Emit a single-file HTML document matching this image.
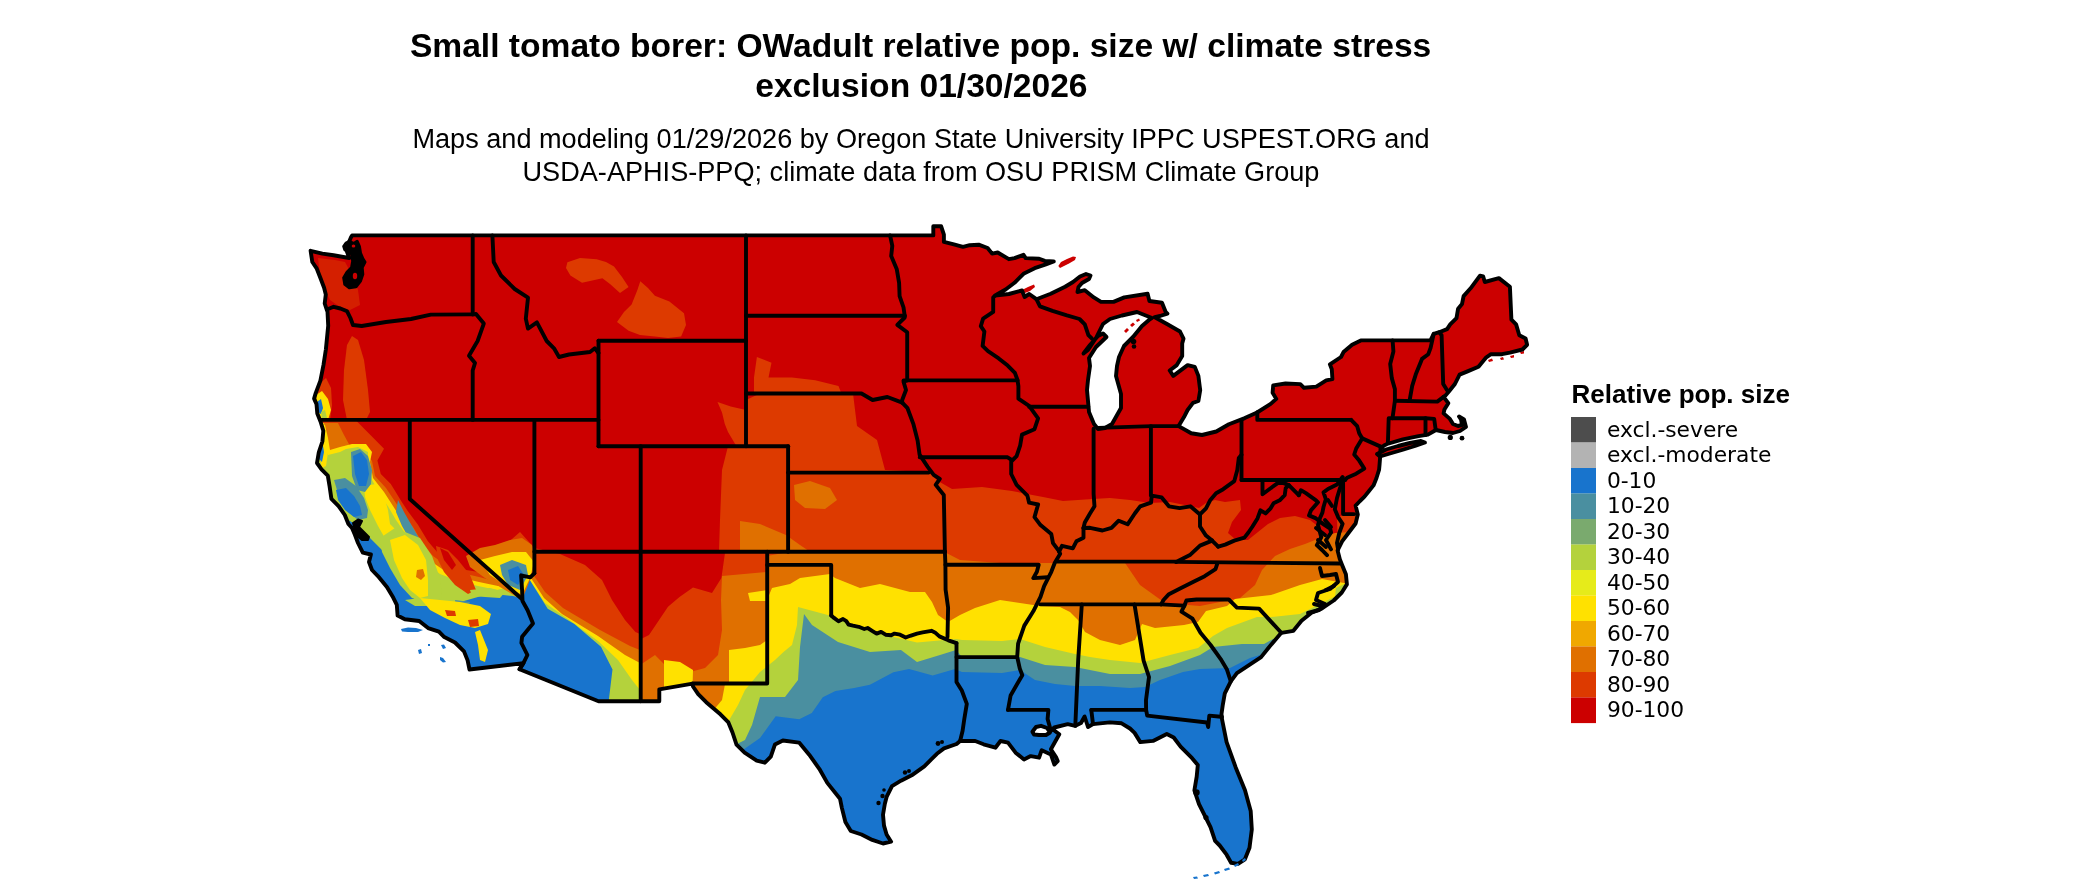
<!DOCTYPE html>
<html><head><meta charset="utf-8"><title>Small tomato borer: OWadult relative pop. size</title>
<style>html,body{margin:0;padding:0;background:#fff;}body{width:2100px;height:892px;overflow:hidden;}svg{display:block;}</style>
</head><body>
<svg width="2100" height="892" viewBox="0 0 2100 892" style="will-change:transform">
<defs><clipPath id="land"><path d="M310.6,250.8 L322.4,253.6 L333.6,255.3 L349.3,258.0 L346.0,249.0 L349.0,242.0 L351.0,237.3 L352.1,235.4 L933.3,235.4 L933.3,226.2 L941.1,226.2 L943.9,234.6 L943.9,241.9 L952.9,244.1 L963.0,246.9 L969.7,245.2 L978.7,244.7 L987.6,248.0 L992.1,253.6 L997.7,252.5 L1008.9,259.2 L1014.5,258.1 L1023.5,254.8 L1025.7,258.1 L1039.2,258.7 L1044.8,260.9 L1053.8,261.5 L1045.9,264.3 L1034.7,268.2 L1023.5,273.8 L1014.5,282.8 L1005.6,289.5 L997.7,294.0 L995.1,295.6 L1008.9,294.0 L1022.0,290.5 L1024.6,297.0 L1029.2,294.0 L1036.4,299.2 L1050.7,293.8 L1065.1,286.7 L1073.0,282.0 L1080.0,276.5 L1086.0,274.0 L1090.5,275.5 L1089.0,279.0 L1082.0,283.0 L1078.5,287.0 L1077.5,292.0 L1084.8,290.2 L1093.8,297.4 L1101.0,301.9 L1113.5,301.9 L1124.3,297.4 L1147.6,293.8 L1149.4,301.0 L1162.0,302.8 L1165.6,311.8 L1167.4,313.6 L1160.0,316.0 L1154.8,317.2 L1167.4,324.3 L1180.0,331.5 L1183.5,338.7 L1182.2,343.6 L1182.2,356.1 L1176.8,365.1 L1169.7,370.5 L1173.3,375.9 L1187.6,365.1 L1194.8,366.9 L1198.4,375.9 L1200.2,390.2 L1198.4,401.0 L1193.0,402.8 L1187.6,410.0 L1184.0,417.1 L1178.6,426.1 L1191.2,433.3 L1202.0,435.0 L1216.3,431.5 L1228.9,424.3 L1244.8,418.1 L1257.1,412.5 L1270.7,403.9 L1276.3,398.9 L1272.6,392.8 L1273.2,385.4 L1285.5,383.5 L1300.3,384.1 L1304.0,387.8 L1316.3,386.6 L1326.2,380.4 L1332.4,379.2 L1331.8,369.3 L1329.9,364.4 L1341.0,357.0 L1343.5,352.1 L1352.1,344.7 L1360.8,340.4 L1430.6,340.2 L1433.7,333.8 L1439.2,332.2 L1447.1,329.1 L1450.2,324.4 L1456.5,318.1 L1458.1,308.7 L1462.0,304.0 L1463.6,296.1 L1470.6,288.3 L1480.0,275.7 L1483.2,276.5 L1484.8,282.0 L1498.9,278.1 L1509.9,286.7 L1511.4,319.6 L1516.1,324.4 L1519.3,335.3 L1525.6,338.5 L1527.1,344.8 L1522.4,349.5 L1509.9,352.6 L1502.0,354.2 L1491.0,354.2 L1486.3,357.3 L1478.5,366.7 L1467.5,371.4 L1459.6,374.6 L1454.9,384.0 L1448.7,391.8 L1445.5,395.5 L1443.6,396.9 L1448.3,403.2 L1444.4,409.5 L1443.6,413.4 L1449.9,418.9 L1453.0,424.0 L1458.0,426.0 L1462.0,425.0 L1461.0,419.5 L1459.0,416.5 L1464.0,419.5 L1466.0,427.0 L1460.0,431.0 L1453.0,433.0 L1445.0,432.0 L1436.0,430.0 L1434.2,431.0 L1427.9,434.6 L1418.5,436.2 L1402.8,439.3 L1387.1,444.0 L1384.0,445.6 L1380.5,448.0 L1380.2,456.2 L1379.6,464.0 L1379.1,469.7 L1376.5,478.0 L1373.5,485.4 L1369.0,491.0 L1364.5,496.6 L1360.0,501.0 L1355.6,505.6 L1357.8,514.5 L1355.6,523.5 L1348.8,532.5 L1342.1,541.4 L1337.6,550.4 L1339.9,559.4 L1342.1,565.0 L1345.9,574.3 L1346.9,584.4 L1341.8,592.5 L1333.7,600.5 L1321.6,608.6 L1311.5,612.7 L1301.5,620.7 L1293.4,630.8 L1281.3,632.8 L1269.2,647.0 L1261.1,657.1 L1249.0,665.1 L1236.9,673.2 L1230.8,681.3 L1224.8,693.4 L1222.7,705.5 L1221.5,714.0 L1222.0,719.1 L1226.6,742.1 L1235.7,767.4 L1245.0,790.3 L1250.7,811.0 L1251.8,829.4 L1249.5,847.8 L1244.9,859.3 L1238.0,863.9 L1231.1,862.8 L1226.6,854.7 L1219.7,845.5 L1215.1,840.9 L1210.5,827.1 L1205.9,817.9 L1199.0,804.1 L1194.4,790.3 L1196.7,776.6 L1197.8,765.1 L1192.1,758.2 L1180.6,746.7 L1173.7,737.5 L1166.8,734.0 L1159.9,737.5 L1153.0,740.9 L1140.3,742.1 L1134.6,732.9 L1130.0,728.5 L1121.6,723.3 L1109.8,722.4 L1093.0,724.1 L1088.0,727.0 L1084.6,716.5 L1081.0,723.0 L1075.3,725.8 L1067.7,724.1 L1054.3,727.5 L1052.6,729.2 L1059.3,734.2 L1050.9,749.3 L1056.0,757.0 L1057.7,761.1 L1054.3,764.5 L1050.9,754.4 L1041.7,750.2 L1039.1,757.7 L1030.7,756.1 L1024.0,759.4 L1015.6,752.7 L1008.0,742.6 L1000.5,741.0 L995.4,747.7 L983.6,744.3 L975.2,741.0 L960.1,741.0 L956.6,744.0 L944.0,748.4 L936.9,753.8 L931.5,759.2 L924.3,766.4 L911.7,775.3 L901.0,780.7 L892.0,786.1 L886.6,796.9 L884.8,804.0 L883.0,814.8 L884.0,825.6 L886.6,834.5 L891.1,841.7 L883.0,843.5 L872.3,839.9 L861.5,834.5 L850.8,831.0 L845.4,822.0 L841.8,807.6 L840.0,798.7 L827.3,782.9 L819.3,768.8 L809.2,754.7 L799.1,742.6 L782.9,740.5 L774.9,744.6 L770.8,756.7 L764.8,762.7 L756.7,760.7 L744.6,752.7 L736.5,744.6 L732.5,732.5 L728.4,722.4 L720.4,714.3 L706.2,702.2 L698.2,694.1 L693.0,686.5 L692.6,683.6 L659.3,689.3 L659.3,701.2 L598.5,701.2 L519.5,669.2 L523.4,663.1 L469.5,669.5 L467.6,660.4 L464.0,651.4 L455.0,642.5 L444.3,637.1 L438.9,631.7 L428.1,628.1 L419.2,621.0 L404.8,619.2 L397.6,615.6 L396.8,604.8 L393.2,597.6 L386.9,586.9 L377.9,576.1 L372.0,570.0 L369.0,562.0 L370.9,554.5 L362.8,552.7 L358.0,543.0 L355.0,535.0 L352.0,528.0 L348.4,524.0 L344.8,515.0 L338.6,506.1 L331.4,498.9 L329.6,486.4 L327.8,475.6 L321.5,469.3 L317.0,463.0 L318.8,452.3 L322.4,441.5 L323.3,430.8 L320.6,421.8 L317.3,413.5 L316.5,404.1 L314.1,398.6 L315.7,393.1 L320.4,380.6 L323.5,364.9 L325.9,349.2 L328.2,325.7 L327.5,311.6 L326.9,310.2 L324.7,303.5 L325.8,294.5 L324.1,287.8 L320.7,278.8 L316.8,268.7 L312.3,262.0Z"/></clipPath></defs>
<path d="M310.6,250.8 L322.4,253.6 L333.6,255.3 L349.3,258.0 L346.0,249.0 L349.0,242.0 L351.0,237.3 L352.1,235.4 L933.3,235.4 L933.3,226.2 L941.1,226.2 L943.9,234.6 L943.9,241.9 L952.9,244.1 L963.0,246.9 L969.7,245.2 L978.7,244.7 L987.6,248.0 L992.1,253.6 L997.7,252.5 L1008.9,259.2 L1014.5,258.1 L1023.5,254.8 L1025.7,258.1 L1039.2,258.7 L1044.8,260.9 L1053.8,261.5 L1045.9,264.3 L1034.7,268.2 L1023.5,273.8 L1014.5,282.8 L1005.6,289.5 L997.7,294.0 L995.1,295.6 L1008.9,294.0 L1022.0,290.5 L1024.6,297.0 L1029.2,294.0 L1036.4,299.2 L1050.7,293.8 L1065.1,286.7 L1073.0,282.0 L1080.0,276.5 L1086.0,274.0 L1090.5,275.5 L1089.0,279.0 L1082.0,283.0 L1078.5,287.0 L1077.5,292.0 L1084.8,290.2 L1093.8,297.4 L1101.0,301.9 L1113.5,301.9 L1124.3,297.4 L1147.6,293.8 L1149.4,301.0 L1162.0,302.8 L1165.6,311.8 L1167.4,313.6 L1160.0,316.0 L1154.8,317.2 L1167.4,324.3 L1180.0,331.5 L1183.5,338.7 L1182.2,343.6 L1182.2,356.1 L1176.8,365.1 L1169.7,370.5 L1173.3,375.9 L1187.6,365.1 L1194.8,366.9 L1198.4,375.9 L1200.2,390.2 L1198.4,401.0 L1193.0,402.8 L1187.6,410.0 L1184.0,417.1 L1178.6,426.1 L1191.2,433.3 L1202.0,435.0 L1216.3,431.5 L1228.9,424.3 L1244.8,418.1 L1257.1,412.5 L1270.7,403.9 L1276.3,398.9 L1272.6,392.8 L1273.2,385.4 L1285.5,383.5 L1300.3,384.1 L1304.0,387.8 L1316.3,386.6 L1326.2,380.4 L1332.4,379.2 L1331.8,369.3 L1329.9,364.4 L1341.0,357.0 L1343.5,352.1 L1352.1,344.7 L1360.8,340.4 L1430.6,340.2 L1433.7,333.8 L1439.2,332.2 L1447.1,329.1 L1450.2,324.4 L1456.5,318.1 L1458.1,308.7 L1462.0,304.0 L1463.6,296.1 L1470.6,288.3 L1480.0,275.7 L1483.2,276.5 L1484.8,282.0 L1498.9,278.1 L1509.9,286.7 L1511.4,319.6 L1516.1,324.4 L1519.3,335.3 L1525.6,338.5 L1527.1,344.8 L1522.4,349.5 L1509.9,352.6 L1502.0,354.2 L1491.0,354.2 L1486.3,357.3 L1478.5,366.7 L1467.5,371.4 L1459.6,374.6 L1454.9,384.0 L1448.7,391.8 L1445.5,395.5 L1443.6,396.9 L1448.3,403.2 L1444.4,409.5 L1443.6,413.4 L1449.9,418.9 L1453.0,424.0 L1458.0,426.0 L1462.0,425.0 L1461.0,419.5 L1459.0,416.5 L1464.0,419.5 L1466.0,427.0 L1460.0,431.0 L1453.0,433.0 L1445.0,432.0 L1436.0,430.0 L1434.2,431.0 L1427.9,434.6 L1418.5,436.2 L1402.8,439.3 L1387.1,444.0 L1384.0,445.6 L1380.5,448.0 L1380.2,456.2 L1379.6,464.0 L1379.1,469.7 L1376.5,478.0 L1373.5,485.4 L1369.0,491.0 L1364.5,496.6 L1360.0,501.0 L1355.6,505.6 L1357.8,514.5 L1355.6,523.5 L1348.8,532.5 L1342.1,541.4 L1337.6,550.4 L1339.9,559.4 L1342.1,565.0 L1345.9,574.3 L1346.9,584.4 L1341.8,592.5 L1333.7,600.5 L1321.6,608.6 L1311.5,612.7 L1301.5,620.7 L1293.4,630.8 L1281.3,632.8 L1269.2,647.0 L1261.1,657.1 L1249.0,665.1 L1236.9,673.2 L1230.8,681.3 L1224.8,693.4 L1222.7,705.5 L1221.5,714.0 L1222.0,719.1 L1226.6,742.1 L1235.7,767.4 L1245.0,790.3 L1250.7,811.0 L1251.8,829.4 L1249.5,847.8 L1244.9,859.3 L1238.0,863.9 L1231.1,862.8 L1226.6,854.7 L1219.7,845.5 L1215.1,840.9 L1210.5,827.1 L1205.9,817.9 L1199.0,804.1 L1194.4,790.3 L1196.7,776.6 L1197.8,765.1 L1192.1,758.2 L1180.6,746.7 L1173.7,737.5 L1166.8,734.0 L1159.9,737.5 L1153.0,740.9 L1140.3,742.1 L1134.6,732.9 L1130.0,728.5 L1121.6,723.3 L1109.8,722.4 L1093.0,724.1 L1088.0,727.0 L1084.6,716.5 L1081.0,723.0 L1075.3,725.8 L1067.7,724.1 L1054.3,727.5 L1052.6,729.2 L1059.3,734.2 L1050.9,749.3 L1056.0,757.0 L1057.7,761.1 L1054.3,764.5 L1050.9,754.4 L1041.7,750.2 L1039.1,757.7 L1030.7,756.1 L1024.0,759.4 L1015.6,752.7 L1008.0,742.6 L1000.5,741.0 L995.4,747.7 L983.6,744.3 L975.2,741.0 L960.1,741.0 L956.6,744.0 L944.0,748.4 L936.9,753.8 L931.5,759.2 L924.3,766.4 L911.7,775.3 L901.0,780.7 L892.0,786.1 L886.6,796.9 L884.8,804.0 L883.0,814.8 L884.0,825.6 L886.6,834.5 L891.1,841.7 L883.0,843.5 L872.3,839.9 L861.5,834.5 L850.8,831.0 L845.4,822.0 L841.8,807.6 L840.0,798.7 L827.3,782.9 L819.3,768.8 L809.2,754.7 L799.1,742.6 L782.9,740.5 L774.9,744.6 L770.8,756.7 L764.8,762.7 L756.7,760.7 L744.6,752.7 L736.5,744.6 L732.5,732.5 L728.4,722.4 L720.4,714.3 L706.2,702.2 L698.2,694.1 L693.0,686.5 L692.6,683.6 L659.3,689.3 L659.3,701.2 L598.5,701.2 L519.5,669.2 L523.4,663.1 L469.5,669.5 L467.6,660.4 L464.0,651.4 L455.0,642.5 L444.3,637.1 L438.9,631.7 L428.1,628.1 L419.2,621.0 L404.8,619.2 L397.6,615.6 L396.8,604.8 L393.2,597.6 L386.9,586.9 L377.9,576.1 L372.0,570.0 L369.0,562.0 L370.9,554.5 L362.8,552.7 L358.0,543.0 L355.0,535.0 L352.0,528.0 L348.4,524.0 L344.8,515.0 L338.6,506.1 L331.4,498.9 L329.6,486.4 L327.8,475.6 L321.5,469.3 L317.0,463.0 L318.8,452.3 L322.4,441.5 L323.3,430.8 L320.6,421.8 L317.3,413.5 L316.5,404.1 L314.1,398.6 L315.7,393.1 L320.4,380.6 L323.5,364.9 L325.9,349.2 L328.2,325.7 L327.5,311.6 L326.9,310.2 L324.7,303.5 L325.8,294.5 L324.1,287.8 L320.7,278.8 L316.8,268.7 L312.3,262.0Z" fill="#CC0000"/>
<g clip-path="url(#land)">
<path d="M719.0,551.7 L720.0,520.0 L722.0,470.0 L728.0,446.3 L746.0,446.3 L746.0,400.0 L760.0,393.5 L853.0,393.5 L857.0,426.0 L877.0,440.0 L885.0,470.0 L928.0,472.0 L938.0,481.0 L952.0,489.0 L982.0,487.0 L1012.0,491.0 L1043.0,497.0 L1063.0,501.0 L1093.0,499.0 L1110.0,498.0 L1130.0,500.0 L1150.0,503.0 L1170.0,502.0 L1199.0,508.0 L1206.0,503.0 L1215.0,500.0 L1225.0,502.0 L1240.0,500.0 L1241.0,510.0 L1232.0,522.0 L1228.0,533.0 L1236.0,540.0 L1248.0,540.0 L1258.0,532.0 L1268.0,524.0 L1280.0,518.0 L1295.0,516.0 L1310.0,520.0 L1320.0,528.0 L1331.0,545.0 L1342.0,560.0 L1360.0,600.0 L1360.0,900.0 L692.0,900.0 L692.0,684.0 L767.0,684.0 L767.0,551.7Z" fill="#DD3A00"/>
<path d="M641.0,639.0 L649.0,635.0 L668.0,606.7 L679.5,597.0 L693.0,587.6 L712.0,593.0 L721.4,578.0 L725.0,553.0 L767.0,551.7 L767.0,701.0 L640.0,701.2Z" fill="#DD3A00"/>
<path d="M1337.0,518.0 L1345.0,514.0 L1358.0,512.0 L1358.0,540.0 L1345.0,548.0 L1338.0,552.0Z" fill="#DD3A00"/>
<path d="M567.4,262.3 L580.0,258.0 L596.6,259.3 L606.0,262.0 L614.0,266.6 L622.0,277.0 L628.6,287.0 L620.0,292.9 L610.0,284.0 L602.4,278.3 L590.0,281.0 L582.0,282.7 L570.4,275.4 L566.0,268.0Z" fill="#DD3A00"/>
<path d="M640.3,281.2 L648.0,288.0 L654.9,295.8 L669.4,301.6 L684.0,313.3 L686.0,325.0 L681.1,336.6 L668.0,338.0 L654.9,336.6 L640.0,335.0 L628.6,330.8 L617.0,322.0 L624.0,312.0 L631.6,304.5 L637.4,290.0Z" fill="#DD3A00"/>
<path d="M717.5,402.0 L730.7,406.5 L743.8,409.5 L746.0,409.5 L746.0,446.3 L736.5,446.3 L728.0,432.0 L724.8,424.0 L722.0,412.4Z" fill="#DD3A00"/>
<path d="M756.9,357.0 L771.5,362.8 L768.5,377.4 L791.9,377.4 L815.2,380.3 L838.5,386.1 L841.4,393.5 L754.0,393.5 L754.0,377.4Z" fill="#DD3A00"/>
<path d="M347.0,345.0 L352.0,336.0 L358.0,340.0 L364.0,360.0 L368.0,390.0 L370.0,412.0 L366.0,419.9 L347.0,419.9 L343.0,400.0 L344.0,370.0Z" fill="#DD3A00"/>
<path d="M318.0,385.0 L326.0,378.0 L331.0,388.0 L332.0,405.0 L330.0,419.9 L316.0,419.9 L314.0,398.0Z" fill="#DD3A00"/>
<path d="M318.0,258.0 L335.0,260.0 L345.0,262.0 L352.0,275.0 L358.0,290.0 L360.0,305.0 L350.0,310.0 L340.0,307.0 L330.0,300.0 L325.0,290.0 L320.0,275.0Z" fill="#D41F00"/>
<path d="M316.0,395.0 L322.0,391.0 L328.0,399.0 L331.0,410.0 L328.0,419.9 L318.0,419.9Z" fill="#FFE100"/>
<path d="M317.0,402.0 L321.0,399.0 L323.0,408.0 L321.0,414.0 L318.0,412.0Z" fill="#1874CD"/>
<path d="M321.0,412.0 L325.0,410.0 L327.0,418.0 L322.0,419.0Z" fill="#B4D23C"/>
<path d="M300.0,419.9 L355.5,419.9 L370.7,435.2 L384.0,448.7 L377.4,460.5 L380.8,474.0 L390.8,484.0 L401.0,500.8 L407.7,511.0 L417.8,524.4 L427.9,541.2 L438.0,553.0 L453.0,565.0 L466.0,570.0 L479.0,572.0 L490.0,560.0 L505.0,545.0 L520.0,532.0 L534.4,548.0 L560.0,554.0 L585.0,565.0 L602.0,580.0 L612.0,600.0 L625.0,620.0 L635.4,632.0 L640.0,634.0 L640.0,701.2 L598.0,701.2 L519.0,669.0 L470.0,668.5 L300.0,668.0Z" fill="#DD3A00"/>
<path d="M767.0,556.0 L790.0,551.7 L944.0,551.7 L960.0,560.0 L1000.0,563.0 L1040.0,563.0 L1060.0,563.0 L1125.0,563.0 L1140.0,585.0 L1165.0,603.0 L1200.0,606.0 L1240.0,598.0 L1255.0,585.0 L1262.0,570.0 L1275.0,556.0 L1290.0,549.0 L1305.0,544.0 L1320.0,538.0 L1335.0,533.0 L1350.0,532.0 L1360.0,532.0 L1360.0,900.0 L692.0,900.0 L692.0,684.0 L767.0,684.0Z" fill="#E07000"/>
<path d="M722.0,576.0 L767.0,572.0 L767.0,701.0 L640.0,701.2 L640.0,665.0 L655.0,655.0 L670.0,670.0 L690.0,672.0 L705.0,668.0 L718.0,655.0 L722.0,630.0 L721.0,600.0Z" fill="#E07000"/>
<path d="M794.0,485.0 L810.0,481.0 L830.0,488.0 L837.0,500.0 L825.0,509.0 L805.0,508.0 L795.0,500.0Z" fill="#E07000"/>
<path d="M740.0,521.0 L760.0,524.0 L786.0,535.0 L800.0,545.0 L810.0,551.7 L740.0,551.7Z" fill="#E07000"/>
<path d="M300.0,423.0 L338.0,423.0 L344.0,435.0 L350.0,446.0 L362.0,449.0 L372.0,461.0 L375.0,476.0 L386.0,488.0 L396.0,503.0 L403.0,514.0 L413.0,527.0 L423.0,544.0 L433.0,556.0 L450.0,568.0 L466.0,574.0 L479.0,577.0 L498.0,582.0 L513.0,576.0 L528.0,567.0 L545.0,592.0 L563.0,608.0 L600.0,630.0 L630.0,646.0 L640.0,650.0 L640.0,701.2 L598.0,701.2 L519.0,669.0 L470.0,668.5 L300.0,668.0Z" fill="#E07000"/>
<path d="M767.0,600.0 L772.0,588.0 L790.0,584.0 L800.0,578.0 L830.0,574.0 L835.0,578.0 L860.0,588.0 L880.0,584.0 L895.0,588.0 L910.0,592.0 L925.0,592.0 L932.0,602.0 L938.0,615.0 L948.0,622.0 L960.0,615.0 L975.0,608.0 L1000.0,600.0 L1020.0,603.0 L1040.0,606.0 L1060.0,607.0 L1070.0,612.0 L1078.0,620.0 L1085.0,632.0 L1100.0,640.0 L1120.0,645.0 L1135.0,640.0 L1142.0,624.0 L1155.0,628.0 L1184.0,625.0 L1198.0,622.0 L1206.0,611.0 L1227.0,606.0 L1235.0,599.0 L1271.0,595.0 L1300.0,585.0 L1322.0,579.0 L1344.0,583.0 L1360.0,583.0 L1360.0,900.0 L692.0,900.0 L692.0,684.0 L767.0,684.0Z" fill="#FFE100"/>
<path d="M729.0,650.0 L745.0,648.0 L760.0,645.0 L767.0,640.0 L767.0,684.0 L729.0,684.0Z" fill="#FFE100"/>
<path d="M748.0,593.0 L767.0,590.0 L767.0,601.0 L750.0,601.0Z" fill="#FFE100"/>
<path d="M664.0,660.0 L680.0,662.0 L693.0,670.0 L692.6,683.5 L664.0,687.0Z" fill="#FFE100"/>
<path d="M692.6,683.5 L725.0,684.0 L722.0,700.0 L712.0,712.0 L700.0,700.0Z" fill="#E07000"/>
<path d="M300.0,425.0 L325.0,425.0 L328.0,438.0 L330.0,450.0 L340.0,447.0 L352.0,444.0 L366.0,444.0 L372.0,452.0 L370.0,462.0 L373.0,478.0 L384.0,492.0 L393.0,506.0 L400.0,517.0 L409.0,530.0 L419.0,547.0 L429.0,560.0 L445.0,571.0 L462.0,578.0 L479.0,582.0 L498.0,586.0 L513.0,581.0 L527.0,572.0 L544.0,598.0 L562.0,614.0 L598.0,636.0 L625.0,655.0 L640.0,663.0 L640.0,701.2 L598.0,701.2 L519.0,669.0 L470.0,668.5 L300.0,668.0Z" fill="#FFE100"/>
<path d="M700.0,722.0 L712.0,730.0 L728.0,722.0 L738.0,705.0 L745.0,690.0 L760.0,672.0 L775.0,660.0 L783.5,652.0 L792.0,645.0 L797.0,625.0 L798.0,607.0 L830.6,615.7 L870.0,631.4 L917.0,642.4 L956.0,639.0 L962.0,640.0 L1002.0,641.0 L1020.0,639.0 L1045.0,647.0 L1075.0,654.0 L1090.0,657.0 L1110.0,660.0 L1140.0,663.0 L1170.0,655.0 L1198.0,648.0 L1213.0,636.0 L1227.0,628.0 L1257.0,617.0 L1271.0,617.0 L1300.0,614.0 L1330.0,599.0 L1344.0,592.0 L1360.0,590.0 L1360.0,900.0 L700.0,900.0Z" fill="#B4D23C"/>
<path d="M300.0,428.0 L322.0,428.0 L324.0,442.0 L328.0,455.0 L340.0,452.0 L346.0,449.0 L358.0,447.0 L368.0,452.0 L368.0,464.0 L372.0,480.0 L380.0,494.0 L389.0,508.0 L396.0,520.0 L405.0,533.0 L414.0,548.0 L424.0,562.0 L440.0,574.0 L458.0,581.0 L478.0,586.0 L497.0,590.0 L512.0,586.0 L527.0,576.0 L545.0,603.0 L568.0,619.0 L598.0,641.0 L618.0,660.0 L632.0,680.0 L640.0,690.0 L640.0,701.2 L598.0,701.2 L519.0,669.0 L470.0,668.5 L300.0,668.0Z" fill="#B4D23C"/>
<path d="M319.0,423.0 L324.0,423.0 L327.0,438.0 L328.0,452.0 L326.0,466.0 L322.0,468.0 L319.0,455.0 L318.0,440.0Z" fill="#FFE100"/>
<path d="M364.0,486.0 L376.0,484.0 L384.0,496.0 L388.0,510.0 L390.0,524.0 L398.0,532.0 L406.0,545.0 L414.0,560.0 L418.0,575.0 L425.0,590.0 L432.0,597.0 L422.0,598.0 L412.0,588.0 L404.0,572.0 L396.0,556.0 L386.0,540.0 L378.0,526.0 L370.0,510.0 L365.0,497.0Z" fill="#FFE100"/>
<path d="M1336.0,588.0 L1344.0,584.0 L1349.0,587.0 L1347.0,596.0 L1340.0,604.0 L1334.0,606.0Z" fill="#B4D23C"/>
<path d="M735.0,745.0 L745.0,740.0 L752.0,725.0 L760.0,697.0 L785.0,697.0 L798.0,680.0 L800.0,647.0 L804.0,614.0 L812.0,625.0 L838.0,642.0 L870.0,652.0 L901.0,650.0 L917.0,662.0 L940.0,655.0 L956.0,650.0 L962.0,657.0 L1002.0,658.0 L1020.0,657.0 L1045.0,665.0 L1075.0,667.0 L1090.0,670.0 L1110.0,674.0 L1140.0,674.0 L1170.0,666.0 L1200.0,655.0 L1213.0,647.0 L1242.0,644.0 L1264.0,644.0 L1290.0,630.0 L1330.0,625.0 L1360.0,620.0 L1360.0,900.0 L735.0,900.0Z" fill="#4A8FA0"/>
<path d="M351.0,452.0 L360.0,449.0 L368.0,456.0 L372.0,470.0 L371.0,484.0 L365.0,492.0 L357.0,490.0 L352.0,476.0Z" fill="#4A8FA0"/>
<path d="M334.0,480.0 L345.0,478.0 L356.0,486.0 L364.0,498.0 L368.0,510.0 L367.0,518.0 L358.0,520.0 L348.0,512.0 L340.0,500.0Z" fill="#4A8FA0"/>
<path d="M398.0,500.0 L404.0,512.0 L412.0,526.0 L420.0,540.0 L428.0,552.0 L420.0,554.0 L410.0,540.0 L402.0,526.0 L396.0,512.0Z" fill="#4A8FA0"/>
<path d="M740.0,752.0 L760.0,738.0 L775.7,716.2 L799.2,719.3 L811.8,713.0 L822.8,697.3 L835.4,691.0 L854.2,688.0 L869.9,684.8 L893.4,672.2 L909.1,669.0 L932.7,675.4 L955.0,669.0 L962.0,672.0 L1002.0,673.0 L1020.0,670.0 L1035.0,680.0 L1055.0,684.0 L1075.0,686.0 L1100.0,686.0 L1130.0,688.0 L1145.0,687.0 L1160.0,680.0 L1183.0,672.0 L1200.0,669.0 L1230.0,668.0 L1250.0,658.0 L1270.0,652.0 L1300.0,645.0 L1360.0,640.0 L1360.0,900.0 L740.0,900.0Z" fill="#1874CD"/>
<path d="M353.0,456.0 L361.0,452.0 L367.0,460.0 L369.0,474.0 L366.0,486.0 L359.0,486.0 L355.0,474.0Z" fill="#1874CD"/>
<path d="M336.0,490.0 L346.0,488.0 L354.0,496.0 L360.0,506.0 L362.0,515.0 L354.0,517.0 L345.0,510.0 L338.0,500.0Z" fill="#1874CD"/>
<path d="M318.0,440.0 L322.0,440.0 L324.0,452.0 L322.0,462.0 L318.0,458.0Z" fill="#1874CD"/>
<path d="M345.0,518.0 L358.0,526.0 L370.0,538.0 L382.0,550.0 L392.0,565.0 L400.0,580.0 L410.0,595.0 L417.0,601.0 L437.0,608.7 L464.0,601.0 L490.0,593.4 L513.0,596.0 L521.0,598.0 L528.7,578.2 L547.7,608.7 L574.4,623.9 L601.0,646.8 L612.5,669.6 L608.7,701.2 L598.5,701.2 L519.5,669.0 L470.3,668.5 L464.0,651.0 L444.0,637.0 L428.0,628.0 L404.8,619.2 L397.6,615.6 L396.8,604.8 L393.2,597.6 L386.9,586.9 L377.9,576.1 L372.0,570.0 L365.0,555.0 L355.0,535.0Z" fill="#1874CD"/>
<path d="M380.0,538.0 L395.0,528.0 L420.0,538.0 L432.0,556.0 L440.0,578.0 L442.0,598.0 L430.0,603.0 L412.0,598.0 L400.0,585.0 L390.0,568.0 L382.0,552.0Z" fill="#B4D23C"/>
<path d="M390.0,540.0 L405.0,535.0 L418.0,545.0 L426.0,560.0 L428.0,580.0 L428.0,596.0 L420.0,598.0 L410.0,590.0 L402.0,578.0 L394.0,560.0Z" fill="#FFE100"/>
<path d="M417.0,570.0 L423.0,569.0 L425.0,576.0 L421.0,580.0 L416.0,577.0Z" fill="#E07000"/>
<path d="M436.0,546.0 L448.0,550.0 L458.0,560.0 L470.0,575.0 L476.0,590.0 L468.0,594.0 L455.0,585.0 L444.0,572.0 L438.0,560.0Z" fill="#DD3A00"/>
<path d="M440.0,548.0 L448.0,552.0 L456.0,565.0 L452.0,570.0 L444.0,560.0Z" fill="#CC0000"/>
<path d="M466.0,556.0 L480.0,548.0 L495.0,545.0 L510.0,540.0 L522.0,538.0 L532.0,545.0 L536.0,560.0 L530.0,580.0 L522.0,600.0 L505.0,590.0 L485.0,578.0 L470.0,567.0Z" fill="#E07000"/>
<path d="M480.0,560.0 L495.0,556.0 L512.0,552.0 L526.0,552.0 L534.0,562.0 L530.0,578.0 L522.0,595.0 L505.0,585.0 L490.0,575.0Z" fill="#FFE100"/>
<path d="M500.0,565.0 L512.0,560.0 L526.0,565.0 L528.0,575.0 L520.0,590.0 L508.0,585.0 L502.0,575.0Z" fill="#4A8FA0"/>
<path d="M508.0,570.0 L518.0,566.0 L524.0,575.0 L518.0,585.0 L510.0,580.0Z" fill="#1874CD"/>
<path d="M470.0,590.0 L490.0,588.0 L505.0,592.0 L500.0,598.0 L485.0,597.0 L472.0,596.0Z" fill="#B4D23C"/>
<path d="M455.0,600.0 L470.0,602.0 L468.0,607.0 L456.0,606.0Z" fill="#4A8FA0"/>
<path d="M405.0,600.0 L420.0,598.0 L430.0,606.0 L415.0,606.0Z" fill="#B4D23C"/>
<path d="M420.0,598.0 L440.0,600.0 L460.0,602.0 L480.0,606.0 L491.0,614.0 L488.0,624.0 L475.0,628.0 L460.0,625.0 L445.0,618.0 L430.0,610.0Z" fill="#FFE100"/>
<path d="M445.0,610.0 L455.0,611.0 L456.0,616.0 L447.0,616.0Z" fill="#DD3A00"/>
<path d="M468.0,620.0 L478.0,619.0 L479.0,626.0 L470.0,627.0Z" fill="#DD3A00"/>
<path d="M475.0,632.0 L480.0,630.0 L488.0,650.0 L485.0,662.0 L480.0,660.0 L478.0,645.0Z" fill="#FFE100"/>
</g>
<path d="M1022.0,290.0 L1028.0,287.0 L1034.0,284.5 L1035.0,287.0 L1030.0,291.0 L1025.0,293.0Z" fill="#CC0000"/>
<path d="M1488.0,360.0 L1492.0,358.5 L1493.0,361.0 L1489.0,362.0Z" fill="#CC0000"/>
<path d="M1500.0,358.0 L1503.0,357.0 L1504.0,359.5 L1501.0,360.0Z" fill="#CC0000"/>
<path d="M1510.0,356.0 L1514.0,355.0 L1514.0,357.5 L1511.0,358.0Z" fill="#CC0000"/>
<path d="M1520.0,352.0 L1524.0,351.0 L1524.0,353.5 L1521.0,354.0Z" fill="#CC0000"/>
<path d="M1152.0,318.0 L1137.0,312.0 L1122.0,315.5 L1110.0,319.0 L1103.0,324.0 L1096.0,338.0 L1088.0,350.0 L1083.5,353.5 L1090.0,345.0 L1098.0,336.0 L1103.0,333.5 L1106.5,337.0 L1096.0,347.0 L1089.0,358.0 L1090.0,366.0 L1088.0,380.0 L1087.0,390.0 L1089.0,412.0 L1094.0,424.0 L1098.0,429.0 L1105.0,428.0 L1112.0,424.0 L1121.0,408.0 L1121.0,394.0 L1116.0,376.0 L1117.0,366.0 L1119.0,357.0 L1124.0,346.0 L1133.0,337.0 L1142.0,326.0 L1149.0,320.0Z" fill="#fff" stroke="#000" stroke-width="3.9" stroke-linejoin="round"/>
<path d="M1124.0,331.0 L1127.0,328.0 L1129.0,330.0 L1126.0,333.0Z" fill="#CC0000"/>
<path d="M1130.0,325.0 L1133.0,322.5 L1135.0,324.5 L1132.0,327.0Z" fill="#CC0000"/>
<path d="M1136.0,320.0 L1139.0,318.5 L1140.0,320.5 L1137.0,322.0Z" fill="#CC0000"/>
<g fill="none" stroke="#000" stroke-width="3.9" stroke-linejoin="round" stroke-linecap="round">
<path d="M327.0,309.5 L333.6,306.8 L340.4,308.5 L347.1,311.3 L350.4,318.0 L353.0,325.0 L361.7,326.0 L386.0,322.0 L411.0,319.0 L430.8,314.6 L472.7,314.4"/>
<path d="M472.7,235.4 L472.7,314.4"/>
<path d="M472.7,314.4 L476.0,314.0 L483.8,323.6 L477.6,341.0 L469.0,355.7 L475.0,363.0 L472.7,370.5 L472.7,419.9"/>
<path d="M320.6,419.9 L598.5,419.9"/>
<path d="M492.4,235.4 L493.7,262.0 L501.0,275.5 L514.7,289.0 L528.0,297.7 L525.8,318.7 L528.0,328.6 L536.9,322.4 L546.7,341.0 L554.0,348.3 L559.0,357.0 L569.0,354.5 L590.0,352.0 L594.8,348.3 L598.5,353.0"/>
<path d="M598.5,340.8 L598.5,446.3"/>
<path d="M598.5,340.8 L746.0,340.8"/>
<path d="M598.5,446.3 L788.1,446.3"/>
<path d="M640.7,446.3 L640.7,701.2"/>
<path d="M746.0,235.4 L746.0,446.3"/>
<path d="M746.0,315.8 L904.7,315.8"/>
<path d="M746.0,393.5 L861.5,393.5 L872.6,400.0 L887.4,397.0 L902.2,402.6"/>
<path d="M788.1,472.6 L928.7,472.6"/>
<path d="M788.1,446.3 L788.1,551.7"/>
<path d="M534.4,551.7 L944.9,551.7"/>
<path d="M534.4,419.9 L534.4,573.3"/>
<path d="M409.8,419.9 L409.8,499.0 L521.3,598.5"/>
<path d="M534.4,573.3 L530.2,577.3 L521.1,575.3 L522.1,590.4 L522.5,601.0 L527.6,610.2 L533.0,623.6 L527.6,630.0 L522.1,636.8 L521.4,643.0 L527.4,655.0 L523.4,663.1 L519.5,669.2"/>
<path d="M767.2,551.7 L767.2,683.5 L692.6,683.5"/>
<path d="M767.2,564.9 L831.2,564.9 L831.2,615.5"/>
<path d="M831.2,615.5 L834.0,617.9 L838.5,621.2 L843.0,619.0 L846.3,621.2 L848.6,624.6 L853.0,625.7 L858.7,626.8 L864.3,629.0 L867.6,628.0 L872.1,630.8 L876.6,633.6 L881.1,631.9 L885.6,634.7 L891.2,635.2 L894.5,633.6 L900.1,634.7 L905.7,637.5 L910.2,635.8 L917.0,633.6 L922.6,632.4 L931.5,630.8 L934.9,632.4 L939.4,636.4 L948.3,640.3 L956.5,643.2"/>
<path d="M944.9,551.7 L945.4,564.6 L945.6,589.7 L948.1,607.7 L947.5,637.0"/>
<path d="M956.5,643.2 L956.5,682.0 L961.8,690.5 L966.8,703.9 L964.3,719.0 L962.6,730.8 L960.1,741.0"/>
<path d="M956.5,657.1 L1017.2,657.1"/>
<path d="M945.4,564.8 L1038.7,564.8 L1036.9,571.8 L1033.3,578.1 L1047.7,577.2"/>
<path d="M995.1,295.6 L993.2,297.4 L993.2,311.9 L983.1,318.7 L980.8,326.1 L984.4,331.5 L982.6,345.9 L988.0,351.2 L998.7,358.4 L1007.7,365.6 L1014.9,372.8 L1017.5,380.0 L1018.4,386.1 L1018.4,398.7 L1029.1,405.9 L1038.1,418.4 L1034.5,429.2 L1022.0,434.6 L1020.2,445.3 L1016.6,456.1 L1011.2,461.5 L1011.2,474.0 L1016.6,484.8 L1027.4,495.6 L1029.1,502.7 L1038.1,504.5 L1034.5,517.1 L1040.5,525.1 L1051.3,534.1 L1053.0,543.1 L1058.4,550.2 L1060.2,553.8 L1054.8,562.8 L1051.3,571.8 L1044.1,586.1 L1040.5,596.9 L1033.3,611.3 L1024.3,625.6 L1018.1,643.6 L1017.2,657.0 L1019.8,668.6 L1022.3,675.3 L1017.3,683.7 L1010.6,695.5 L1008.0,709.9"/>
<path d="M1008.0,709.9 L1048.4,709.9 L1047.6,719.0 L1050.9,730.8 L1052.6,729.2"/>
<path d="M919.7,457.3 L1007.6,457.3 L1011.2,459.7"/>
<path d="M903.6,380.4 L1017.5,380.4"/>
<path d="M902.2,402.6 L907.5,408.2 L913.5,424.4 L917.6,440.5 L919.6,454.7 L927.7,466.8 L933.7,474.8 L939.8,478.9 L935.7,484.9 L943.8,495.0 L944.9,551.7"/>
<path d="M904.7,315.8 L904.7,317.5 L897.3,324.9 L907.2,332.3 L907.2,380.4 L903.5,381.6 L906.0,390.0 L902.2,400.0 L902.2,402.6"/>
<path d="M890.1,235.4 L892.3,245.8 L891.2,255.9 L896.8,269.3 L899.1,282.8 L899.6,296.2 L903.5,307.4 L904.7,315.8"/>
<path d="M1036.4,299.2 L1040.0,306.4 L1052.5,310.9 L1066.9,315.4 L1079.5,319.0 L1084.8,324.3 L1088.4,335.1 L1092.0,338.7"/>
<path d="M1029.1,406.8 L1088.3,406.8"/>
<path d="M1093.6,428.8 L1093.6,493.8 L1094.5,506.3 L1090.0,513.5 L1084.8,522.5 L1083.5,528.0"/>
<path d="M1059.1,551.7 L1062.0,545.8 L1072.8,548.4 L1076.4,541.3 L1083.5,537.7 L1083.5,528.0"/>
<path d="M1083.5,528.0 L1090.0,527.8 L1102.5,530.5 L1111.5,527.8 L1118.7,520.7 L1127.6,524.3 L1134.8,513.5 L1140.2,506.3 L1151.0,502.7 L1151.8,495.6 L1161.7,497.4 L1168.9,506.3 L1179.6,508.1 L1190.4,506.3 L1200.0,514.4 L1206.0,508.3 L1210.1,500.3 L1216.1,493.2 L1223.2,489.2 L1234.3,481.1 L1237.3,470.0 L1238.8,458.0 L1241.5,454.8"/>
<path d="M1150.9,426.1 L1150.9,495.6"/>
<path d="M1097.9,427.9 L1151.7,426.1 L1178.6,426.1"/>
<path d="M1241.5,420.5 L1241.5,480.0"/>
<path d="M1241.5,480.0 L1345.1,480.0"/>
<path d="M1257.3,412.3 L1257.3,419.9 L1351.1,419.9"/>
<path d="M1351.1,419.9 L1357.2,426.2 L1359.2,433.3 L1362.2,438.4 L1356.2,448.5 L1354.2,454.5 L1359.2,460.6 L1364.3,468.6 L1356.2,473.7 L1347.1,477.7 L1345.1,480.0"/>
<path d="M1362.2,438.4 L1382.4,447.4"/>
<path d="M1343.1,480.0 L1343.1,514.1 L1354.2,514.1"/>
<path d="M1262.5,480.1 L1262.5,494.2 L1270.6,488.2 L1277.7,483.1 L1283.7,483.1 L1288.8,485.1 L1298.8,495.2"/>
<path d="M1298.8,495.2 L1300.9,490.2 L1305.9,493.2 L1316.0,500.3 L1318.0,502.3 L1311.0,510.3 L1309.0,515.4 L1316.0,518.4 L1321.0,522.5 L1330.1,528.5 L1331.1,532.5 L1326.0,540.0 L1331.0,549.4"/>
<path d="M1218.2,546.7 L1225.2,544.6 L1234.3,540.6 L1244.4,537.6 L1248.4,532.5 L1252.5,526.5 L1257.5,518.4 L1260.5,510.3 L1265.6,513.4 L1270.6,508.3 L1273.6,503.3 L1279.7,500.3 L1284.7,495.2 L1285.7,488.2 L1288.8,485.1"/>
<path d="M1200.0,514.4 L1200.0,526.5 L1206.0,535.6 L1212.1,540.6 L1218.2,546.7"/>
<path d="M1212.1,540.6 L1200.0,545.6 L1190.4,554.7 L1176.1,561.9"/>
<path d="M1057.0,561.6 L1176.1,561.6"/>
<path d="M1176.1,561.9 L1339.8,563.5"/>
<path d="M1217.3,563.7 L1215.5,569.1 L1204.7,576.2 L1194.0,581.6 L1179.6,588.8 L1168.9,594.2 L1163.5,600.0 L1161.2,604.4"/>
<path d="M1040.5,604.4 L1161.2,604.4 L1184.4,605.6"/>
<path d="M1184.4,605.6 L1186.4,600.5 L1196.5,599.5 L1228.8,599.5 L1236.9,607.6 L1259.1,608.6 L1281.3,632.8"/>
<path d="M1184.4,605.6 L1181.4,611.6 L1192.5,618.7 L1200.5,632.8 L1210.6,645.0 L1220.7,659.1 L1226.8,669.2 L1230.8,681.3"/>
<path d="M1081.8,604.4 L1078.2,660.0 L1075.3,725.8"/>
<path d="M1134.5,604.4 L1143.6,660.6 L1149.0,677.0 L1146.0,700.0 L1146.1,709.9"/>
<path d="M1091.3,709.9 L1146.1,709.9"/>
<path d="M1091.3,709.9 L1093.0,724.0"/>
<path d="M1146.1,709.9 L1147.2,715.6 L1207.0,722.5 L1208.2,727.1 L1209.3,715.6 L1220.8,716.8 L1222.0,717.0"/>
<path d="M1392.6,340.4 L1393.4,351.4 L1390.2,364.0 L1391.8,378.1 L1394.9,389.1 L1394.9,400.8"/>
<path d="M1394.9,400.8 L1392.5,418.3 L1388.7,418.3 L1387.9,443.0"/>
<path d="M1433.7,333.8 L1430.6,347.9 L1428.3,354.2 L1422.0,358.9 L1415.7,374.6 L1412.2,385.9 L1409.8,399.3 L1409.8,400.8"/>
<path d="M1439.2,332.2 L1441.6,335.3 L1443.2,384.0 L1447.1,390.3"/>
<path d="M1394.9,400.8 L1437.3,401.6 L1443.6,396.9"/>
<path d="M1392.5,418.3 L1425.5,418.3 L1434.2,418.9 L1435.7,429.9"/>
<path d="M1425.5,418.3 L1425.5,435.0"/>
<path d="M310.6,250.8 L322.4,253.6 L333.6,255.3 L349.3,258.0 L346.0,249.0 L349.0,242.0 L351.0,237.3 L352.1,235.4 L933.3,235.4 L933.3,226.2 L941.1,226.2 L943.9,234.6 L943.9,241.9 L952.9,244.1 L963.0,246.9 L969.7,245.2 L978.7,244.7 L987.6,248.0 L992.1,253.6 L997.7,252.5 L1008.9,259.2 L1014.5,258.1 L1023.5,254.8 L1025.7,258.1 L1039.2,258.7 L1044.8,260.9 L1053.8,261.5 L1045.9,264.3 L1034.7,268.2 L1023.5,273.8 L1014.5,282.8 L1005.6,289.5 L997.7,294.0 L995.1,295.6 L1008.9,294.0 L1022.0,290.5 L1024.6,297.0 L1029.2,294.0 L1036.4,299.2 L1050.7,293.8 L1065.1,286.7 L1073.0,282.0 L1080.0,276.5 L1086.0,274.0 L1090.5,275.5 L1089.0,279.0 L1082.0,283.0 L1078.5,287.0 L1077.5,292.0 L1084.8,290.2 L1093.8,297.4 L1101.0,301.9 L1113.5,301.9 L1124.3,297.4 L1147.6,293.8 L1149.4,301.0 L1162.0,302.8 L1165.6,311.8 L1167.4,313.6 L1160.0,316.0 L1154.8,317.2 L1167.4,324.3 L1180.0,331.5 L1183.5,338.7 L1182.2,343.6 L1182.2,356.1 L1176.8,365.1 L1169.7,370.5 L1173.3,375.9 L1187.6,365.1 L1194.8,366.9 L1198.4,375.9 L1200.2,390.2 L1198.4,401.0 L1193.0,402.8 L1187.6,410.0 L1184.0,417.1 L1178.6,426.1 L1191.2,433.3 L1202.0,435.0 L1216.3,431.5 L1228.9,424.3 L1244.8,418.1 L1257.1,412.5 L1270.7,403.9 L1276.3,398.9 L1272.6,392.8 L1273.2,385.4 L1285.5,383.5 L1300.3,384.1 L1304.0,387.8 L1316.3,386.6 L1326.2,380.4 L1332.4,379.2 L1331.8,369.3 L1329.9,364.4 L1341.0,357.0 L1343.5,352.1 L1352.1,344.7 L1360.8,340.4 L1430.6,340.2 L1433.7,333.8 L1439.2,332.2 L1447.1,329.1 L1450.2,324.4 L1456.5,318.1 L1458.1,308.7 L1462.0,304.0 L1463.6,296.1 L1470.6,288.3 L1480.0,275.7 L1483.2,276.5 L1484.8,282.0 L1498.9,278.1 L1509.9,286.7 L1511.4,319.6 L1516.1,324.4 L1519.3,335.3 L1525.6,338.5 L1527.1,344.8 L1522.4,349.5 L1509.9,352.6 L1502.0,354.2 L1491.0,354.2 L1486.3,357.3 L1478.5,366.7 L1467.5,371.4 L1459.6,374.6 L1454.9,384.0 L1448.7,391.8 L1445.5,395.5 L1443.6,396.9 L1448.3,403.2 L1444.4,409.5 L1443.6,413.4 L1449.9,418.9 L1453.0,424.0 L1458.0,426.0 L1462.0,425.0 L1461.0,419.5 L1459.0,416.5 L1464.0,419.5 L1466.0,427.0 L1460.0,431.0 L1453.0,433.0 L1445.0,432.0 L1436.0,430.0 L1434.2,431.0 L1427.9,434.6 L1418.5,436.2 L1402.8,439.3 L1387.1,444.0 L1384.0,445.6 L1380.5,448.0 L1380.2,456.2 L1379.6,464.0 L1379.1,469.7 L1376.5,478.0 L1373.5,485.4 L1369.0,491.0 L1364.5,496.6 L1360.0,501.0 L1355.6,505.6 L1357.8,514.5 L1355.6,523.5 L1348.8,532.5 L1342.1,541.4 L1337.6,550.4 L1339.9,559.4 L1342.1,565.0 L1345.9,574.3 L1346.9,584.4 L1341.8,592.5 L1333.7,600.5 L1321.6,608.6 L1311.5,612.7 L1301.5,620.7 L1293.4,630.8 L1281.3,632.8 L1269.2,647.0 L1261.1,657.1 L1249.0,665.1 L1236.9,673.2 L1230.8,681.3 L1224.8,693.4 L1222.7,705.5 L1221.5,714.0 L1222.0,719.1 L1226.6,742.1 L1235.7,767.4 L1245.0,790.3 L1250.7,811.0 L1251.8,829.4 L1249.5,847.8 L1244.9,859.3 L1238.0,863.9 L1231.1,862.8 L1226.6,854.7 L1219.7,845.5 L1215.1,840.9 L1210.5,827.1 L1205.9,817.9 L1199.0,804.1 L1194.4,790.3 L1196.7,776.6 L1197.8,765.1 L1192.1,758.2 L1180.6,746.7 L1173.7,737.5 L1166.8,734.0 L1159.9,737.5 L1153.0,740.9 L1140.3,742.1 L1134.6,732.9 L1130.0,728.5 L1121.6,723.3 L1109.8,722.4 L1093.0,724.1 L1088.0,727.0 L1084.6,716.5 L1081.0,723.0 L1075.3,725.8 L1067.7,724.1 L1054.3,727.5 L1052.6,729.2 L1059.3,734.2 L1050.9,749.3 L1056.0,757.0 L1057.7,761.1 L1054.3,764.5 L1050.9,754.4 L1041.7,750.2 L1039.1,757.7 L1030.7,756.1 L1024.0,759.4 L1015.6,752.7 L1008.0,742.6 L1000.5,741.0 L995.4,747.7 L983.6,744.3 L975.2,741.0 L960.1,741.0 L956.6,744.0 L944.0,748.4 L936.9,753.8 L931.5,759.2 L924.3,766.4 L911.7,775.3 L901.0,780.7 L892.0,786.1 L886.6,796.9 L884.8,804.0 L883.0,814.8 L884.0,825.6 L886.6,834.5 L891.1,841.7 L883.0,843.5 L872.3,839.9 L861.5,834.5 L850.8,831.0 L845.4,822.0 L841.8,807.6 L840.0,798.7 L827.3,782.9 L819.3,768.8 L809.2,754.7 L799.1,742.6 L782.9,740.5 L774.9,744.6 L770.8,756.7 L764.8,762.7 L756.7,760.7 L744.6,752.7 L736.5,744.6 L732.5,732.5 L728.4,722.4 L720.4,714.3 L706.2,702.2 L698.2,694.1 L693.0,686.5 L692.6,683.6 L659.3,689.3 L659.3,701.2 L598.5,701.2 L519.5,669.2 L523.4,663.1 L469.5,669.5 L467.6,660.4 L464.0,651.4 L455.0,642.5 L444.3,637.1 L438.9,631.7 L428.1,628.1 L419.2,621.0 L404.8,619.2 L397.6,615.6 L396.8,604.8 L393.2,597.6 L386.9,586.9 L377.9,576.1 L372.0,570.0 L369.0,562.0 L370.9,554.5 L362.8,552.7 L358.0,543.0 L355.0,535.0 L352.0,528.0 L348.4,524.0 L344.8,515.0 L338.6,506.1 L331.4,498.9 L329.6,486.4 L327.8,475.6 L321.5,469.3 L317.0,463.0 L318.8,452.3 L322.4,441.5 L323.3,430.8 L320.6,421.8 L317.3,413.5 L316.5,404.1 L314.1,398.6 L315.7,393.1 L320.4,380.6 L323.5,364.9 L325.9,349.2 L328.2,325.7 L327.5,311.6 L326.9,310.2 L324.7,303.5 L325.8,294.5 L324.1,287.8 L320.7,278.8 L316.8,268.7 L312.3,262.0Z"/>
</g>
<path d="M1320.0,568.0 L1322.0,576.0 L1330.0,575.0 L1336.0,574.0 L1338.0,582.0 L1330.0,589.0 L1318.0,593.0 L1316.0,600.0 L1325.0,604.0 L1319.0,610.0 L1308.0,613.0" fill="none" stroke="#000" stroke-width="3.9" stroke-linejoin="round" stroke-linecap="round"/>
<path d="M1326.0,590.0 L1334.0,586.0" fill="none" stroke="#000" stroke-width="3.9" stroke-linejoin="round" stroke-linecap="round"/>
<path d="M1314.0,604.0 L1322.0,606.0" fill="none" stroke="#000" stroke-width="3.9" stroke-linejoin="round" stroke-linecap="round"/>
<path d="M1342.6,477.0 L1337.0,484.6 L1328.0,489.0 L1323.5,492.4 L1325.8,499.2 L1323.5,507.0 L1322.4,512.6 L1320.0,518.0 L1318.0,525.0 L1321.3,537.3 L1316.8,545.1 L1322.0,550.0 L1327.0,555.2" fill="none" stroke="#000" stroke-width="3.9" stroke-linejoin="round" stroke-linecap="round"/>
<path d="M1342.6,478.0 L1340.4,486.8 L1337.0,498.0 L1334.8,509.3 L1338.1,517.1 L1342.6,523.8 L1339.3,532.8 L1337.0,542.9 L1338.1,549.6" fill="none" stroke="#000" stroke-width="3.9" stroke-linejoin="round" stroke-linecap="round"/>
<path d="M1316.0,528.0 L1325.0,535.0" fill="none" stroke="#000" stroke-width="3.9" stroke-linejoin="round" stroke-linecap="round"/>
<path d="M1318.0,540.0 L1326.0,547.0" fill="none" stroke="#000" stroke-width="3.9" stroke-linejoin="round" stroke-linecap="round"/>
<path d="M1325.0,520.0 L1331.0,527.0" fill="none" stroke="#000" stroke-width="3.9" stroke-linejoin="round" stroke-linecap="round"/>
<path d="M1328.0,500.0 L1332.0,506.0" fill="none" stroke="#000" stroke-width="3.9" stroke-linejoin="round" stroke-linecap="round"/>
<path d="M1377.0,454.0 L1386.0,449.5 L1398.0,446.0 L1410.0,443.0 L1421.0,441.0 L1425.0,442.5 L1415.0,446.0 L1402.0,450.0 L1390.0,453.5 L1380.0,456.5Z" fill="#CC0000" stroke="#000" stroke-width="3.9" stroke-linejoin="round"/>
<path d="M1032.4,731.7 L1036.0,727.0 L1041.0,725.8 L1047.0,728.0 L1050.0,732.5 L1046.0,735.0 L1039.0,735.0 L1034.0,734.5Z" fill="#fff" stroke="#000" stroke-width="3.9" stroke-linejoin="round"/>
<path d="M1193.0,877.0 L1197.0,876.5 L1198.0,878.5 L1194.0,879.0Z" fill="#1874CD"/>
<path d="M1203.0,875.0 L1208.0,874.0 L1209.0,876.0 L1204.0,877.0Z" fill="#1874CD"/>
<path d="M1214.0,872.5 L1219.0,871.0 L1220.0,873.0 L1215.0,874.5Z" fill="#1874CD"/>
<path d="M1224.0,869.0 L1229.0,867.5 L1230.0,869.5 L1225.0,871.0Z" fill="#1874CD"/>
<path d="M1234.0,865.0 L1238.0,863.0 L1239.0,865.0 L1235.0,867.0Z" fill="#1874CD"/>
<path d="M1242.0,860.0 L1245.0,858.0 L1246.0,860.0 L1243.0,862.0Z" fill="#1874CD"/>
<path d="M1058.3,266.0 L1061.0,262.0 L1067.0,259.0 L1073.0,256.5 L1076.0,257.0 L1075.0,260.0 L1069.0,263.5 L1063.0,266.5 L1060.0,268.0Z" fill="#CC0000"/>
<path d="M401.0,629.0 L408.0,627.5 L416.0,628.0 L423.0,630.0 L418.0,632.0 L408.0,632.0 L402.0,631.5Z" fill="#1874CD"/>
<path d="M418.0,650.0 L421.0,649.0 L422.0,653.0 L419.0,654.0Z" fill="#1874CD"/>
<path d="M441.0,645.0 L444.0,644.5 L446.0,648.0 L443.0,649.0Z" fill="#1874CD"/>
<path d="M440.0,657.0 L443.0,658.0 L446.0,662.0 L443.0,662.5 L440.0,660.0Z" fill="#1874CD"/>
<path d="M428.0,644.0 L430.0,644.0 L430.0,646.0 L428.0,646.0Z" fill="#1874CD"/>
<circle cx="1133.5" cy="341.5" r="2.8" fill="#000"/>
<circle cx="1134" cy="346.5" r="2.3" fill="#000"/>
<circle cx="1450.3" cy="437.4" r="2.6" fill="#000"/>
<circle cx="1462" cy="438.2" r="2.4" fill="#000"/>
<circle cx="938" cy="743.5" r="2.4" fill="#000"/>
<circle cx="942" cy="742" r="2" fill="#000"/>
<circle cx="905" cy="772.5" r="2.2" fill="#000"/>
<circle cx="909" cy="771" r="2" fill="#000"/>
<circle cx="882.5" cy="796" r="2.2" fill="#000"/>
<circle cx="878.5" cy="803" r="2.2" fill="#000"/>
<circle cx="884" cy="790" r="1.8" fill="#000"/>
<circle cx="1196.5" cy="792.5" r="3.2" fill="#000"/>
<circle cx="1206" cy="817.5" r="2.6" fill="#000"/>
<path d="M343.7,246.3 L346.0,243.0 L349.3,241.3 L353.8,243.5 L357.2,241.3 L359.4,246.3 L360.5,253.0 L362.8,258.6 L365.0,262.0 L362.2,267.6 L362.8,274.3 L360.5,281.0 L356.0,286.7 L349.3,287.8 L344.8,284.4 L343.7,277.7 L347.1,272.1 L351.6,267.6 L352.7,260.9 L351.6,254.1 L348.2,250.8 L344.8,249.7Z" fill="#000" stroke="#000" stroke-width="3" stroke-linejoin="round"/>
<ellipse cx="355" cy="276" rx="2.2" ry="3.2" fill="#CC0000"/><ellipse cx="353.5" cy="246" rx="1.8" ry="1.5" fill="#CC0000"/>
<path d="M353.0,523.0 L358.0,519.5 L362.0,521.0 L359.0,527.0 L363.0,531.0 L369.0,537.0 L368.0,540.0 L362.0,540.0 L357.0,536.0 L355.0,530.0Z" fill="#000" stroke="#000" stroke-width="2" stroke-linejoin="round"/>
<g font-family="Liberation Sans, Arial, sans-serif" text-anchor="middle" fill="#000">
<text x="920.6" y="57.3" font-size="33.6" font-weight="bold">Small tomato borer: OWadult relative pop. size w/ climate stress</text>
<text x="921.4" y="96.6" font-size="33.6" font-weight="bold">exclusion 01/30/2026</text>
<text x="921" y="147.8" font-size="27.12">Maps and modeling 01/29/2026 by Oregon State University IPPC USPEST.ORG and</text>
<text x="921" y="181.0" font-size="27.12">USDA-APHIS-PPQ; climate data from OSU PRISM Climate Group</text>
</g>
<text x="1571.5" y="402.9" font-family="Liberation Sans, Arial, sans-serif" font-size="26.05" font-weight="bold">Relative pop. size</text>
<rect x="1571" y="417.0" width="25" height="25.6" fill="#4D4D4D"/>
<text x="1606.9" y="436.6" font-family="DejaVu Sans, sans-serif" font-size="21.8">excl.-severe</text>
<rect x="1571" y="442.5" width="25" height="25.6" fill="#B3B3B3"/>
<text x="1606.9" y="462.1" font-family="DejaVu Sans, sans-serif" font-size="21.8">excl.-moderate</text>
<rect x="1571" y="468.0" width="25" height="25.6" fill="#1874CD"/>
<text x="1606.9" y="487.6" font-family="DejaVu Sans, sans-serif" font-size="21.8">0-10</text>
<rect x="1571" y="493.5" width="25" height="25.6" fill="#4A8FA0"/>
<text x="1606.9" y="513.1" font-family="DejaVu Sans, sans-serif" font-size="21.8">10-20</text>
<rect x="1571" y="519.0" width="25" height="25.6" fill="#7AAA6E"/>
<text x="1606.9" y="538.6" font-family="DejaVu Sans, sans-serif" font-size="21.8">20-30</text>
<rect x="1571" y="544.5" width="25" height="25.6" fill="#B4D23C"/>
<text x="1606.9" y="564.1" font-family="DejaVu Sans, sans-serif" font-size="21.8">30-40</text>
<rect x="1571" y="570.0" width="25" height="25.6" fill="#E6EB1A"/>
<text x="1606.9" y="589.6" font-family="DejaVu Sans, sans-serif" font-size="21.8">40-50</text>
<rect x="1571" y="595.5" width="25" height="25.6" fill="#FFE100"/>
<text x="1606.9" y="615.1" font-family="DejaVu Sans, sans-serif" font-size="21.8">50-60</text>
<rect x="1571" y="621.0" width="25" height="25.6" fill="#F0A800"/>
<text x="1606.9" y="640.6" font-family="DejaVu Sans, sans-serif" font-size="21.8">60-70</text>
<rect x="1571" y="646.5" width="25" height="25.6" fill="#E07000"/>
<text x="1606.9" y="666.1" font-family="DejaVu Sans, sans-serif" font-size="21.8">70-80</text>
<rect x="1571" y="672.0" width="25" height="25.6" fill="#DD3A00"/>
<text x="1606.9" y="691.6" font-family="DejaVu Sans, sans-serif" font-size="21.8">80-90</text>
<rect x="1571" y="697.5" width="25" height="25.6" fill="#CC0000"/>
<text x="1606.9" y="717.1" font-family="DejaVu Sans, sans-serif" font-size="21.8">90-100</text>
</svg>
</body></html>
